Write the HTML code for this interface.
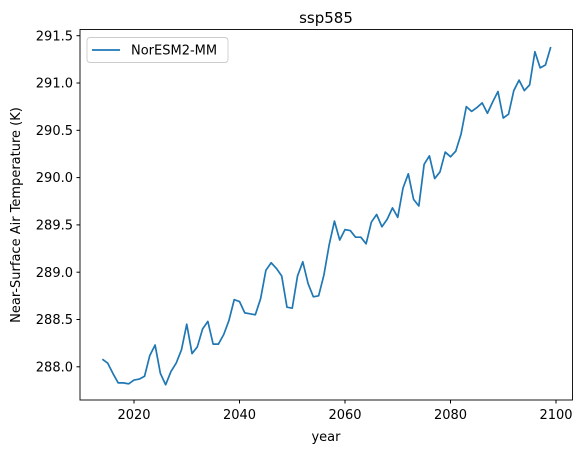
<!DOCTYPE html>
<html><head><meta charset="utf-8"><style>
body{margin:0;background:#fff;}
svg{display:block;font-family:"DejaVu Sans","Liberation Sans",sans-serif;}
</style></head><body>
<svg id="chart" width="585" height="453" viewBox="0 0 585 453">
<text x="326" y="23" font-size="15" text-anchor="middle">ssp585</text>
<g id="xticks"></g>
<g id="yticks"></g>
<path id="line" fill="none" stroke="#1f77b4" stroke-width="1.7" stroke-linejoin="round"/>
<rect x="80" y="29.5" width="492.5" height="370.5" fill="none" stroke="#000" stroke-width="0.9"/>
<text x="326" y="441" font-size="13" text-anchor="middle">year</text>
<text transform="translate(20,215) rotate(-90)" font-size="13" text-anchor="middle">Near-Surface Air Temperature (K)</text>
<g>
<rect x="87" y="37.5" width="141" height="25" rx="3" fill="#fff" stroke="#ccc" stroke-width="0.9"/>
<line x1="92" y1="50" x2="120" y2="50" stroke="#1f77b4" stroke-width="1.7"/>
<text x="131" y="54.5" font-size="13">NorESM2-MM</text>
</g>
</svg>
<script>
const years=[];for(let y=2014;y<=2099;y++)years.push(y);
const temps=[288.08,288.04,287.93,287.83,287.83,287.82,287.86,287.87,287.90,288.12,288.23,287.93,287.81,287.95,288.04,288.18,288.45,288.14,288.21,288.40,288.48,288.24,288.24,288.34,288.49,288.71,288.69,288.57,288.56,288.55,288.72,289.02,289.10,289.04,288.96,288.63,288.62,288.96,289.11,288.88,288.74,288.75,288.97,289.29,289.54,289.34,289.45,289.44,289.37,289.37,289.30,289.53,289.61,289.48,289.56,289.68,289.58,289.89,290.04,289.77,289.70,290.14,290.23,289.99,290.06,290.27,290.22,290.28,290.46,290.75,290.70,290.74,290.79,290.68,290.80,290.91,290.63,290.67,290.92,291.03,290.92,290.98,291.33,291.16,291.19,291.38];
const xTicks=[2020,2040,2060,2080,2100];
const yTicks=[288.0,288.5,289.0,289.5,290.0,290.5,291.0,291.5];
const NS='http://www.w3.org/2000/svg';
function xs(v){return 134+(v-2020)*(422/80);}
function ys(v){return 35.7+(291.5-v)*94.6;}
const xg=document.getElementById('xticks'),yg=document.getElementById('yticks');
xTicks.forEach(t=>{
 const l=document.createElementNS(NS,'line');
 l.setAttribute('x1',xs(t));l.setAttribute('x2',xs(t));l.setAttribute('y1',400);l.setAttribute('y2',403.5);l.setAttribute('stroke','#000');
 
 
 xg.appendChild(l);
 const tx=document.createElementNS(NS,'text');
 tx.setAttribute('x',xs(t));tx.setAttribute('y',419);tx.setAttribute('font-size','13');tx.setAttribute('text-anchor','middle');tx.textContent=t;
 
 
 xg.appendChild(tx);
});
yTicks.forEach(t=>{
 const l=document.createElementNS(NS,'line');
 l.setAttribute('x1',76.5);l.setAttribute('x2',80);l.setAttribute('y1',ys(t));l.setAttribute('y2',ys(t));l.setAttribute('stroke','#000');
 
 
 yg.appendChild(l);
 const tx=document.createElementNS(NS,'text');
 tx.setAttribute('x',73);tx.setAttribute('y',ys(t)+4.6);tx.setAttribute('font-size','13');tx.setAttribute('text-anchor','end');tx.textContent=t.toFixed(1);
 
 
 yg.appendChild(tx);
});
document.getElementById('line').setAttribute('d',years.map((y,i)=>(i?'L':'M')+xs(y).toFixed(2)+' '+ys(temps[i]).toFixed(2)).join(' '));
</script>
</body></html>
